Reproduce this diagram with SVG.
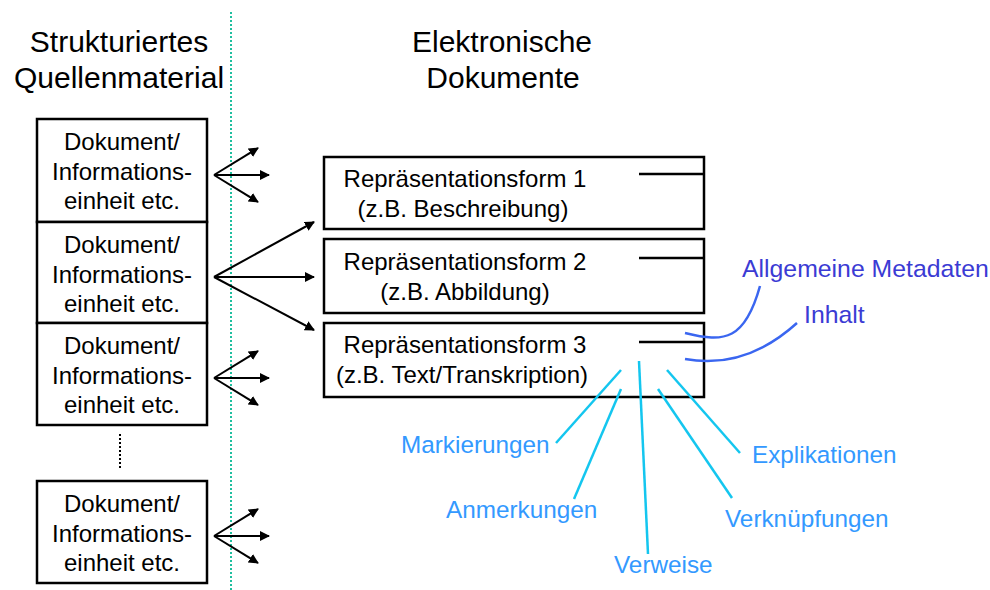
<svg xmlns="http://www.w3.org/2000/svg" width="990" height="590" viewBox="0 0 990 590">
<style>
text{font-family:"Liberation Sans",Arial,sans-serif;}
.box{fill:#fff;stroke:#000;stroke-width:2.5;}
.t{font-size:24px;fill:#000;text-anchor:middle;}
.h{font-size:30px;fill:#000;text-anchor:middle;}
.arr{stroke:#000;stroke-width:2;fill:none;marker-end:url(#ah);}
.tick{stroke:#000;stroke-width:2.5;}
.cy{stroke:#14c6ef;stroke-width:2.5;fill:none;}
.bl{stroke:#3a66f0;stroke-width:2.5;fill:none;}
.lb{font-size:24.3px;fill:#3399ff;}
.lm{font-size:24.8px;fill:#3b3bd4;}
</style>
<defs>
<marker id="ah" viewBox="0 0 10 10" refX="9" refY="5" markerWidth="5" markerHeight="5" orient="auto" markerUnits="strokeWidth">
<path d="M0,0 L10,5 L0,10 z" fill="#000"/>
</marker>
</defs>
<rect width="990" height="590" fill="#fff"/>
<line x1="231" y1="12" x2="231" y2="590" stroke="#1fbf9f" stroke-width="2" stroke-dasharray="2,2"/>
<g id="header-left">
<text class="h" x="119" y="52">Strukturiertes</text>
<text class="h" x="119" y="88">Quellenmaterial</text>
</g>
<g id="header-right">
<text class="h" x="502" y="52">Elektronische</text>
<text class="h" x="503" y="88">Dokumente</text>
</g>
<g id="doc1">
<rect class="box" x="37" y="119" width="170" height="103"/>
<text class="t" x="122" y="150">Dokument/</text>
<text class="t" x="122" y="180">Informations-</text>
<text class="t" x="122" y="209">einheit etc.</text>
</g>
<g id="doc2">
<rect class="box" x="37" y="222" width="170" height="101"/>
<text class="t" x="122" y="253">Dokument/</text>
<text class="t" x="122" y="283">Informations-</text>
<text class="t" x="122" y="312">einheit etc.</text>
</g>
<g id="doc3">
<rect class="box" x="37" y="323" width="170" height="102"/>
<text class="t" x="122" y="354">Dokument/</text>
<text class="t" x="122" y="384">Informations-</text>
<text class="t" x="122" y="413">einheit etc.</text>
</g>
<g id="ellipsis">
<line x1="120" y1="434" x2="120" y2="469" stroke="#000" stroke-width="2" stroke-dasharray="2,2"/>
</g>
<g id="doc4">
<rect class="box" x="37" y="481" width="170" height="102"/>
<text class="t" x="122" y="512">Dokument/</text>
<text class="t" x="122" y="542">Informations-</text>
<text class="t" x="122" y="571">einheit etc.</text>
</g>
<g id="rep1">
<rect class="box" x="324" y="157" width="380" height="72"/>
<line class="tick" x1="639" y1="174" x2="704" y2="174"/>
<text class="t" x="465" y="187">Repräsentationsform 1</text>
<text class="t" x="463" y="217">(z.B. Beschreibung)</text>
</g>
<g id="rep2">
<rect class="box" x="324" y="239" width="380" height="74"/>
<line class="tick" x1="639" y1="258" x2="704" y2="258"/>
<text class="t" x="465" y="270">Repräsentationsform 2</text>
<text class="t" x="465" y="300">(z.B. Abbildung)</text>
</g>
<g id="rep3">
<rect class="box" x="324" y="323" width="380" height="74"/>
<line class="tick" x1="639" y1="342" x2="704" y2="342"/>
<text class="t" x="465" y="353">Repräsentationsform 3</text>
<text class="t" x="462" y="383">(z.B. Text/Transkription)</text>
</g>
<g id="labels">
<text class="lm" x="742" y="277">Allgemeine Metadaten</text>
<text class="lm" x="804" y="323">Inhalt</text>
<text class="lb" x="401" y="453">Markierungen</text>
<text class="lb" x="446" y="518">Anmerkungen</text>
<text class="lb" x="614" y="573">Verweise</text>
<text class="lb" x="725" y="527">Verknüpfungen</text>
<text class="lb" x="752" y="463">Explikationen</text>
</g>
<g id="connectors">
<path class="arr" d="M214,175 L258,148"/>
<path class="arr" d="M214,175 L269,175"/>
<path class="arr" d="M214,175 L258,202"/>
<path class="arr" d="M214,277 L314,222"/>
<path class="arr" d="M214,277 L314,277"/>
<path class="arr" d="M214,277 L314,330"/>
<path class="arr" d="M214,378 L258,351"/>
<path class="arr" d="M214,378 L269,378"/>
<path class="arr" d="M214,378 L258,405"/>
<path class="arr" d="M214,536 L258,509"/>
<path class="arr" d="M214,536 L269,536"/>
<path class="arr" d="M214,536 L258,563"/>
<path class="bl" d="M685,333 C725,343 745,340 760,286"/>
<path class="bl" d="M685,359 Q745,370 797,323"/>
<path class="cy" d="M621,370 L556,443"/>
<path class="cy" d="M621,389 L574,499"/>
<path class="cy" d="M639,361 L648,554"/>
<path class="cy" d="M658,389 L732,498"/>
<path class="cy" d="M667,370 L740,453"/>
</g>
</svg>
